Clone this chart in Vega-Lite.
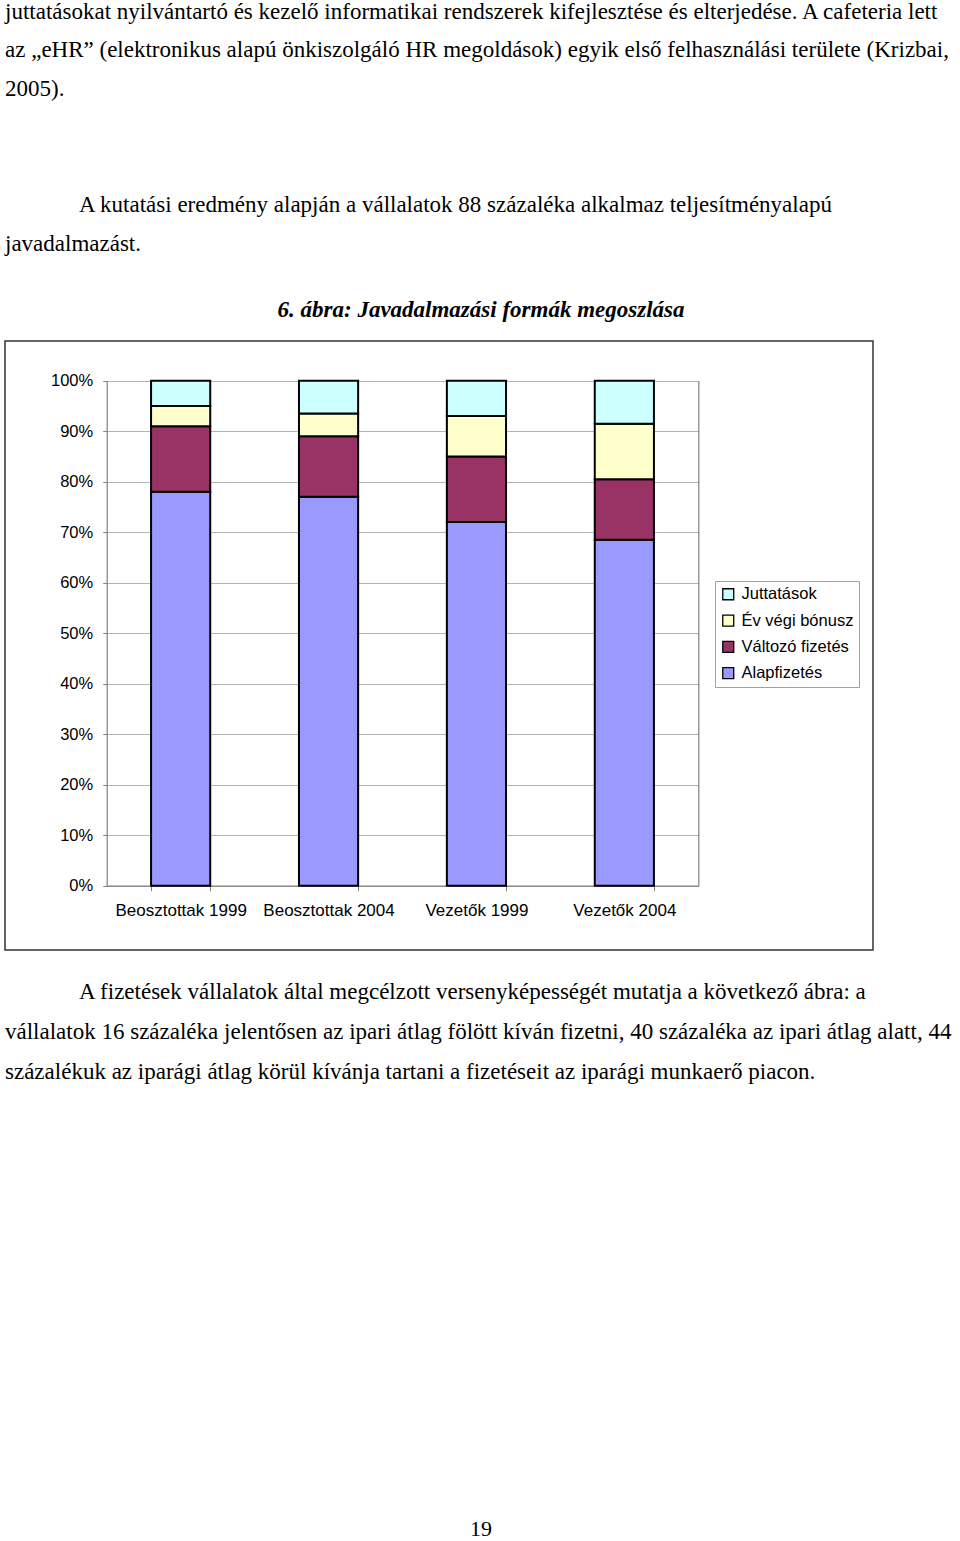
{
  "$schema": "https://vega.github.io/schema/vega-lite/v6.json",
  "padding": {"left": 4, "top": 0, "right": 0, "bottom": 0},
  "spacing": 0,
  "bounds": "flush",
  "config": {
    "font": "Liberation Sans",
    "background": "white"
  },
  "vconcat": [
    {
      "width": 952,
      "height": 341,
      "view": {"stroke": null},
      "data": {
        "values": [
          {"line": 0, "kind": "cont", "text": "juttatásokat nyilvántartó és kezelő informatikai rendszerek kifejlesztése és elterjedése. A cafeteria lett"},
          {"line": 1, "kind": "cont", "text": "az „eHR” (elektronikus alapú önkiszolgáló HR megoldások) egyik első felhasználási területe (Krizbai,"},
          {"line": 2, "kind": "cont", "text": "2005)."},
          {"line": 5, "kind": "first", "text": "A kutatási eredmény alapján a vállalatok 88 százaléka alkalmaz teljesítményalapú"},
          {"line": 6, "kind": "cont", "text": "javadalmazást."}
        ]
      },
      "mark": {"type": "text", "align": "left", "baseline": "middle", "font": "Liberation Serif", "fontSize": 23, "color": "black"},
      "encoding": {
        "x": {"field": "kind", "type": "nominal", "axis": null, "scale": {"type": "point", "padding": 0, "domain": ["cont", "first"], "range": [0, 74]}},
        "y": {"field": "line", "type": "quantitative", "axis": null, "scale": {"domain": [0, 6], "range": [11.5, 244], "nice": false, "zero": false}},
        "text": {"field": "text"}
      }
    },
    {
      "width": 868,
      "height": 609,
      "view": {"stroke": "#333333", "strokeWidth": 1.5},
      "title": {
        "text": "6. ábra: Javadalmazási formák megoszlása",
        "font": "Liberation Serif",
        "fontSize": 23,
        "fontStyle": "italic",
        "fontWeight": "bold",
        "color": "black",
        "anchor": "middle",
        "frame": "group",
        "baseline": "alphabetic",
        "dx": 42,
        "offset": 1
      },
      "data": {
        "values": [
          {"group": "Beosztottak 1999", "component": "Alapfizetés", "value": 78},
          {"group": "Beosztottak 1999", "component": "Változó fizetés", "value": 13},
          {"group": "Beosztottak 1999", "component": "Év végi bónusz", "value": 4},
          {"group": "Beosztottak 1999", "component": "Juttatások", "value": 5},
          {"group": "Beosztottak 2004", "component": "Alapfizetés", "value": 77},
          {"group": "Beosztottak 2004", "component": "Változó fizetés", "value": 12},
          {"group": "Beosztottak 2004", "component": "Év végi bónusz", "value": 4.5},
          {"group": "Beosztottak 2004", "component": "Juttatások", "value": 6.5},
          {"group": "Vezetők 1999", "component": "Alapfizetés", "value": 72},
          {"group": "Vezetők 1999", "component": "Változó fizetés", "value": 13},
          {"group": "Vezetők 1999", "component": "Év végi bónusz", "value": 8},
          {"group": "Vezetők 1999", "component": "Juttatások", "value": 7},
          {"group": "Vezetők 2004", "component": "Alapfizetés", "value": 68.5},
          {"group": "Vezetők 2004", "component": "Változó fizetés", "value": 12},
          {"group": "Vezetők 2004", "component": "Év végi bónusz", "value": 11},
          {"group": "Vezetők 2004", "component": "Juttatások", "value": 8.5}
        ]
      },
      "transform": [
        {"calculate": "indexof(['Alapfizetés','Változó fizetés','Év végi bónusz','Juttatások'], datum.component)", "as": "stackOrder"}
      ],
      "encoding": {
        "x": {
          "field": "group",
          "type": "nominal",
          "sort": null,
          "scale": {"range": [101.7, 693.3], "paddingInner": 0.6, "paddingOuter": 0.3},
          "axis": {
            "title": null,
            "offset": -64.3,
            "tickBand": "extent",
            "labelAngle": 0,
            "domainColor": "#808080",
            "domainWidth": 1.2,
            "tickColor": "#808080",
            "tickSize": 5,
            "labelPadding": 12,
            "labelFont": "Liberation Sans",
            "labelFontSize": 17,
            "labelColor": "black",
            "grid": false
          }
        }
      },
      "layer": [
        {
          "mark": {"type": "bar", "stroke": "black", "strokeWidth": 2},
          "encoding": {
            "y": {
              "field": "value",
              "type": "quantitative",
              "stack": "zero",
              "scale": {"domain": [0, 100], "range": [544.7, 39.7], "nice": false},
              "axis": {
                "orient": "left",
                "offset": -101.7,
                "title": null,
                "values": [0, 10, 20, 30, 40, 50, 60, 70, 80, 90, 100],
                "labelExpr": "datum.value + '%'",
                "grid": true,
                "gridColor": "#b4b4b4",
                "gridWidth": 1.2,
                "domainColor": "#808080",
                "domainWidth": 1.2,
                "tickColor": "#808080",
                "tickSize": 4,
                "labelPadding": 10,
                "labelFont": "Liberation Sans",
                "labelFontSize": 16.5,
                "labelColor": "black",
                "labelBaseline": "middle"
              }
            },
            "color": {
              "field": "component",
              "type": "nominal",
              "scale": {
                "domain": ["Juttatások", "Év végi bónusz", "Változó fizetés", "Alapfizetés"],
                "range": ["#CCFFFF", "#FFFFCC", "#993366", "#9999FF"]
              },
              "legend": {
                "title": null,
                "orient": "none",
                "legendX": 710,
                "legendY": 581,
                "symbolType": "square",
                "symbolSize": 120,
                "symbolStrokeColor": "black",
                "symbolStrokeWidth": 1.3,
                "labelFont": "Liberation Sans",
                "labelFontSize": 16.5,
                "labelColor": "black",
                "labelOffset": 5,
                "rowPadding": 9.3,
                "padding": 5,
                "strokeColor": "#a0a0a0",
                "fillColor": "white"
              }
            },
            "order": {"field": "stackOrder", "type": "quantitative", "sort": "ascending"}
          }
        },
        {
          "mark": {"type": "bar", "opacity": 0},
          "encoding": {
            "y": {
              "field": "value",
              "type": "quantitative",
              "stack": "zero",
              "axis": {
                "orient": "right",
                "offset": -174.7,
                "title": null,
                "labels": false,
                "ticks": false,
                "grid": false,
                "domainColor": "#808080",
                "domainWidth": 1.2
              }
            }
          }
        }
      ],
      "resolve": {"axis": {"y": "independent"}}
    },
    {
      "width": 952,
      "height": 560,
      "view": {"stroke": null},
      "title": {
        "text": "19",
        "orient": "bottom",
        "font": "Liberation Serif",
        "fontSize": 22,
        "fontWeight": "normal",
        "color": "black",
        "anchor": "middle",
        "frame": "group",
        "baseline": "alphabetic",
        "offset": 26
      },
      "data": {
        "values": [
          {"line": 0, "kind": "first", "text": "A fizetések vállalatok által megcélzott versenyképességét mutatja a következő ábra: a"},
          {"line": 1, "kind": "cont", "text": "vállalatok 16 százaléka jelentősen az ipari átlag fölött kíván fizetni, 40 százaléka az ipari átlag alatt, 44"},
          {"line": 2, "kind": "cont", "text": "százalékuk az iparági átlag körül kívánja tartani a fizetéseit az iparági munkaerő piacon."}
        ]
      },
      "mark": {"type": "text", "align": "left", "baseline": "middle", "font": "Liberation Serif", "fontSize": 23, "color": "black"},
      "encoding": {
        "x": {"field": "kind", "type": "nominal", "axis": null, "scale": {"type": "point", "padding": 0, "domain": ["cont", "first"], "range": [0, 74]}},
        "y": {"field": "line", "type": "quantitative", "axis": null, "scale": {"domain": [0, 2], "range": [42, 122], "nice": false, "zero": false}},
        "text": {"field": "text"}
      }
    }
  ]
}
